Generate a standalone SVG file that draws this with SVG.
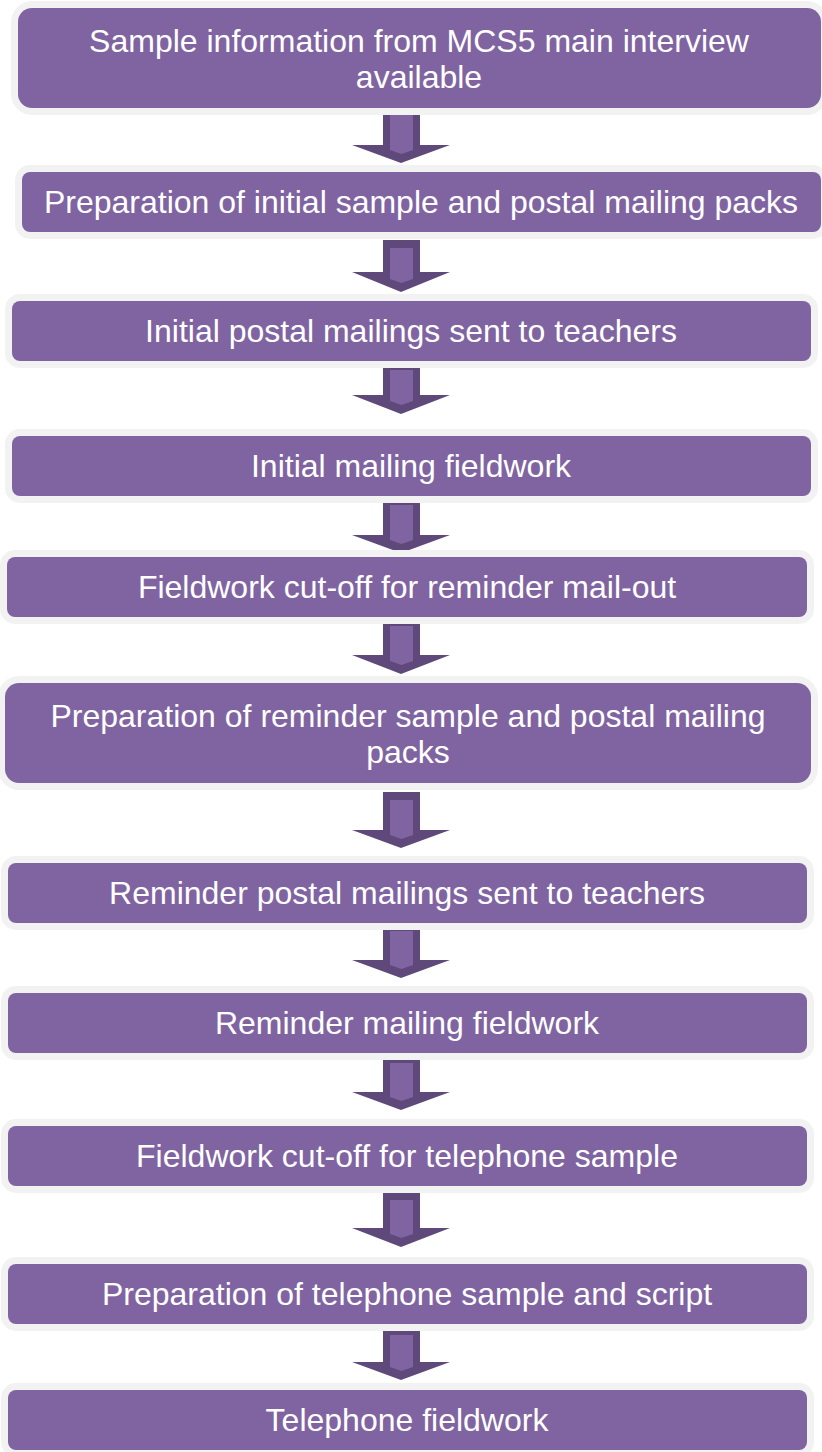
<svg xmlns="http://www.w3.org/2000/svg" width="822" height="1452" viewBox="0 0 822 1452">
<style>
.halo{fill:#F2F2F2}
.box{fill:#8064A2}
.lbl{font-family:"Liberation Sans",Arial,sans-serif;font-size:32px;fill:#FFFFFF;text-anchor:middle}
.ao{fill:#5F497A}
.ai{fill:#8064A2}
</style>
<rect width="822" height="1452" fill="#FFFFFF"/>
<g id="connectors">
<path class="ao" d="M383,107 H420 V145 H450 L401,163 L352,145 H383 Z"/><path class="ai" d="M390,115 H413 V150 L401.5,154 L390,150 Z"/>
<path class="ao" d="M383,240 H420 V272 H450 L401,292 L352,272 H383 Z"/><path class="ai" d="M390,248 H413 V279 L401.5,283 L390,279 Z"/>
<path class="ao" d="M383,362 H420 V395 H450 L401,414 L352,395 H383 Z"/><path class="ai" d="M390,370 H413 V401 L401.5,405 L390,401 Z"/>
<path class="ao" d="M383,497 H420 V535 H450 L401,553 L352,535 H383 Z"/><path class="ai" d="M390,505 H413 V540 L401.5,544 L390,540 Z"/>
<path class="ao" d="M383,618 H420 V655 H450 L401,674 L352,655 H383 Z"/><path class="ai" d="M390,626 H413 V661 L401.5,665 L390,661 Z"/>
<path class="ao" d="M383,792 H420 V830 H450 L401,848 L352,830 H383 Z"/><path class="ai" d="M390,800 H413 V835 L401.5,839 L390,835 Z"/>
<path class="ao" d="M383,923 H420 V960 H450 L401,978 L352,960 H383 Z"/><path class="ai" d="M390,931 H413 V965 L401.5,969 L390,965 Z"/>
<path class="ao" d="M383,1055 H420 V1092 H450 L401,1110 L352,1092 H383 Z"/><path class="ai" d="M390,1063 H413 V1097 L401.5,1101 L390,1097 Z"/>
<path class="ao" d="M383,1192 H420 V1228 H450 L401,1247 L352,1228 H383 Z"/><path class="ai" d="M390,1200 H413 V1234 L401.5,1238 L390,1234 Z"/>
<path class="ao" d="M383,1327 H420 V1362 H450 L401,1380 L352,1362 H383 Z"/><path class="ai" d="M390,1335 H413 V1367 L401.5,1371 L390,1367 Z"/>
</g>
<g id="n1"><rect class="halo" x="11" y="1" width="817" height="114" rx="21"/><rect class="box" x="18" y="8" width="803" height="100" rx="14"/><text class="lbl" x="419" y="52">Sample information from MCS5 main interview</text><text class="lbl" x="419" y="88">available</text></g>
<g id="n2"><rect class="halo" x="15" y="165" width="813" height="74" rx="15"/><rect class="box" x="22" y="172" width="799" height="60" rx="8"/><text class="lbl" x="421" y="213">Preparation of initial sample and postal mailing packs</text></g>
<g id="n3"><rect class="halo" x="5" y="294" width="813" height="74" rx="15"/><rect class="box" x="12" y="301" width="799" height="60" rx="8"/><text class="lbl" x="411" y="342">Initial postal mailings sent to teachers</text></g>
<g id="n4"><rect class="halo" x="5" y="429" width="813" height="74" rx="15"/><rect class="box" x="12" y="436" width="799" height="60" rx="8"/><text class="lbl" x="411" y="477">Initial mailing fieldwork</text></g>
<g id="n5"><rect class="halo" x="0" y="550" width="814" height="74" rx="15"/><rect class="box" x="7" y="557" width="800" height="60" rx="8"/><text class="lbl" x="407" y="598">Fieldwork cut-off for reminder mail-out</text></g>
<g id="n6"><rect class="halo" x="-2" y="676" width="820" height="114" rx="21"/><rect class="box" x="5" y="683" width="806" height="100" rx="14"/><text class="lbl" x="408" y="727">Preparation of reminder sample and postal mailing</text><text class="lbl" x="408" y="763">packs</text></g>
<g id="n7"><rect class="halo" x="1" y="856" width="813" height="74" rx="15"/><rect class="box" x="8" y="863" width="799" height="60" rx="8"/><text class="lbl" x="407" y="904">Reminder postal mailings sent to teachers</text></g>
<g id="n8"><rect class="halo" x="1" y="986" width="813" height="74" rx="15"/><rect class="box" x="8" y="993" width="799" height="60" rx="8"/><text class="lbl" x="407" y="1034">Reminder mailing fieldwork</text></g>
<g id="n9"><rect class="halo" x="1" y="1119" width="813" height="74" rx="15"/><rect class="box" x="8" y="1126" width="799" height="60" rx="8"/><text class="lbl" x="407" y="1167">Fieldwork cut-off for telephone sample</text></g>
<g id="n10"><rect class="halo" x="1" y="1257" width="813" height="74" rx="15"/><rect class="box" x="8" y="1264" width="799" height="60" rx="8"/><text class="lbl" x="407" y="1305">Preparation of telephone sample and script</text></g>
<g id="n11"><rect class="halo" x="1" y="1383" width="813" height="74" rx="15"/><rect class="box" x="8" y="1390" width="799" height="60" rx="8"/><text class="lbl" x="407" y="1431">Telephone fieldwork</text></g>
</svg>
